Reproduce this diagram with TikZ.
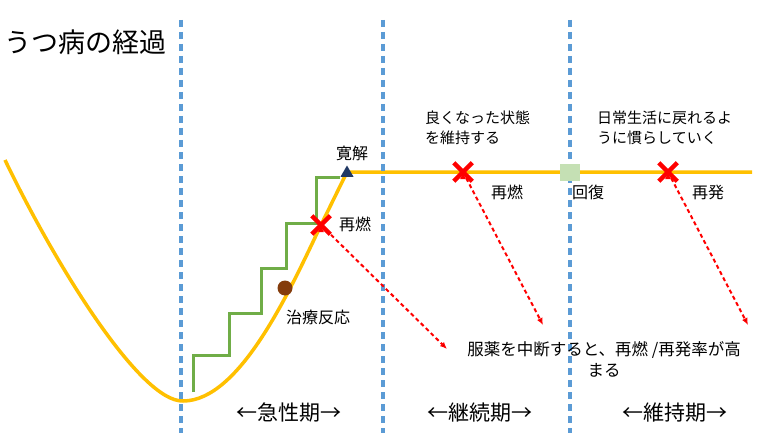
\documentclass[tikz,border=0pt]{standalone}
\usepackage{fontspec}
\setmainfont{Noto Sans CJK JP}
\usetikzlibrary{shapes.geometric,shapes.misc,arrows.meta}

\definecolor{kurve}{HTML}{FFC000}
\definecolor{stufe}{HTML}{70AD47}
\definecolor{grenze}{HTML}{5B9BD5}
\definecolor{marine}{HTML}{203864}
\definecolor{braun}{HTML}{843C0C}
\definecolor{hellgruen}{HTML}{C5E0B4}

\begin{document}
\begin{tikzpicture}[x=1pt,y=-1pt,
	grenzlinie/.style={draw=grenze,line width=3.5pt,dash pattern=on 7pt off 5pt},
	kreuz/.style={cross out,draw=red,line width=4.5pt,minimum size=14pt,inner sep=0pt},
	ausfall/.style={draw=red,line width=2pt,dash pattern=on 4pt off 3pt,-{Latex[length=7pt,width=6pt]}},
	txt/.style={font=\fontsize{15}{20}\selectfont,inner sep=0pt},
	marke/.style={font=\fontsize{16}{20}\selectfont,inner sep=0pt},
	phase/.style={font=\fontsize{21}{24}\selectfont,inner sep=0pt}]
	\useasboundingbox[fill=white] (0,0) rectangle (768,433);

	% Kurve und Stufen
	\draw[kurve,line width=3.5pt] (5,160) .. controls (55,264) and (140,402) .. (183,401)
		.. controls (240,401) and (290,290) .. (321,225) -- (347,172) -- (752,172);
	\draw[stufe,line width=3pt] (193,392) |- (229,355) |- (261,313) |- (286,268)
		|- (316,223) |- (340,177);

	\draw[grenzlinie] (181,20) -- (181,433);
	\draw[grenzlinie] (383,20) -- (383,433);
	\draw[grenzlinie] (570,20) -- (570,433);

	\node[txt,font=\fontsize{27}{30}\selectfont,anchor=west] (titel) at (4,42) {うつ病の経過};

	\node[circle,fill=braun,minimum size=15pt,inner sep=0pt] (reaktion) at (285,288) {};
	\node[regular polygon,regular polygon sides=3,fill=marine,minimum size=15pt,inner sep=0pt] (remission) at (347,173) {};
	\node[rectangle,fill=hellgruen,minimum width=20pt,minimum height=17pt,inner sep=0pt] (genesung) at (570,172) {};
	\node[kreuz] (x1) at (321,225) {};
	\node[kreuz] (x2) at (463,172) {};
	\node[kreuz] (x3) at (668,172) {};

	\node[marke] (l1) at (352,153) {寛解};
	\node[marke] (l2) at (355,224) {再燃};
	\node[marke] (l3) at (318,317) {治療反応};
	\node[marke] (l4) at (507,192) {再燃};
	\node[marke] (l5) at (588,192) {回復};
	\node[marke] (l6) at (708,192) {再発};

	\node[txt,anchor=north west,align=left] (ziel1) at (425,111) {良くなった状態\\を維持する};
	\node[txt,anchor=north west,align=left] (ziel2) at (597,111) {日常生活に戻れるよ\\うに慣らしていく};
	\node[txt,align=center,font=\fontsize{16.5}{21}\selectfont] (warnung) at (604,359) {服薬を中断すると、再燃 /再発率が高\\まる};

	\node[phase] (p1) at (289,413) {←急性期→};
	\node[phase] (p2) at (480,413) {←継続期→};
	\node[phase] (p3) at (675,413) {←維持期→};

	\coordinate (e1) at (447,349);
	\coordinate (e2) at (543,325);
	\coordinate (e3) at (748,325);
	\path[ausfall] (x1.center) edge (e1);
	\path[ausfall] (x2.center) edge (e2);
	\path[ausfall] (x3.center) edge (e3);
\end{tikzpicture}
\end{document}
